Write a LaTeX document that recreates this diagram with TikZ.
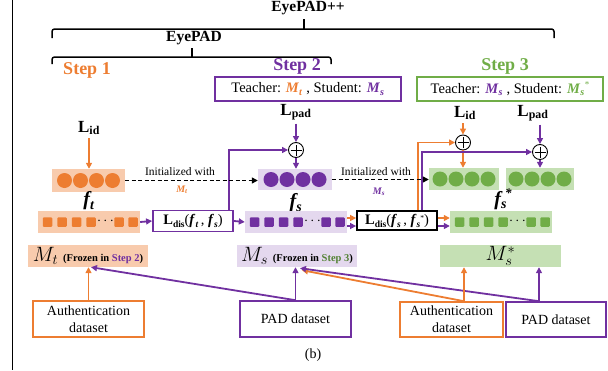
\documentclass[tikz,border=0pt]{standalone}
\usepackage{fontspec}
\setmainfont{Liberation Serif}
\usetikzlibrary{arrows.meta}
\definecolor{org}{HTML}{ED7D31}
\definecolor{orgl}{HTML}{F8CBAD}
\definecolor{pur}{HTML}{7030A0}
\definecolor{purl}{HTML}{E4D8EE}
\definecolor{grn}{HTML}{70AD47}
\definecolor{grnd}{HTML}{548235}
\definecolor{grnl}{HTML}{C5E0B4}
\newcommand\fsz[1]{\fontsize{#1}{#1}\selectfont}
\newcommand\bim[2]{\textbf{\textit{#1}}\textsubscript{\textbf{\textit{#2}}}}
\newcommand\lsub[1]{\raisebox{-3pt}{\fsz{9.5}#1}}
\begin{document}
\begin{tikzpicture}[x=1pt,y=-1pt,
  ln/.style={line width=1.8pt},
  arr/.style={line width=1.8pt,-{Triangle[length=6pt,width=6pt]}},
  dsh/.style={line width=1.3pt,dash pattern=on 4pt off 2.5pt,-{Triangle[length=6pt,width=6pt]}},
  featbox/.style={rectangle,inner sep=0pt,minimum height=22pt},
  dotc/.style={circle,inner sep=0pt,minimum size=15pt},
  sqr/.style={rectangle,inner sep=0pt,minimum size=9.5pt,rounded corners=1pt},
  plusn/.style={circle,draw=black,line width=0.9pt,minimum size=15pt,inner sep=0pt,fill=white},
  stepbox/.style={draw,line width=1.8pt,inner xsep=3pt,minimum height=24pt,font=\fsz{14.5}},
  lossbox/.style={draw,line width=1.8pt,inner sep=0pt,minimum width=80pt,minimum height=21pt,font=\fsz{14.5}},
  dsbox/.style={draw,fill=white,line width=1.6pt,align=center,inner sep=0pt,minimum height=36pt,font=\fontsize{14}{17}\selectfont},
  mbox/.style={inner sep=1pt,minimum width=120pt,minimum height=22pt},
  hd/.style={font=\fsz{15.5}\bfseries},
  stp/.style={font=\fsz{18}\bfseries},
  lossl/.style={font=\fsz{17}},
  initl/.style={font=\fsz{11.5}}
]
\useasboundingbox (0,0) rectangle (608,370);
\draw[line width=0.8pt] (12,0) -- (12,370);

% headings and braces
\node[hd] (epp) at (308,8) {EyePAD++};
\draw[line width=1.5pt,rounded corners=2.5pt] (52,38) |- (554,29) -- (554,38);
\draw[line width=1.5pt] (304,29) -- (304,19);
\node[hd] (ep) at (194,38) {EyePAD};
\draw[line width=1.5pt,rounded corners=2.5pt] (52,64) |- (331,57) -- (331,64);
\draw[line width=1.5pt] (192,57) -- (192,48);

\node[stp,text=org] (s1) at (87,70) {Step 1};
\node[stp,text=pur] (s2) at (297,66) {Step 2};
\node[stp,text=grn] (s3) at (505,66) {Step 3};

\node[stepbox,draw=pur,minimum width=186pt] (tb2) at (308,89)
  {Teacher: \textcolor{org}{\bim{M}{t}} , Student: \textcolor{pur}{\bim{M}{s}}};
\node[stepbox,draw=grn,minimum width=186pt] (tb3) at (510,89)
  {Teacher: \textcolor{pur}{\bim{M}{s}} , Student: \textcolor{grn}{\bim{M}{s}\raisebox{6pt}{\fsz{9}*}}};

% loss labels
\node[lossl] (lid1) at (89,128) {\textbf{L}\textsubscript{\textbf{id}}};
\node[lossl] (lpad2) at (296,112) {\textbf{L}\textsubscript{\textbf{pad}}};
\node[lossl] (lid3) at (465,113) {\textbf{L}\textsubscript{\textbf{id}}};
\node[lossl] (lpad3) at (533,113) {\textbf{L}\textsubscript{\textbf{pad}}};

% feature boxes (circles)
\node[featbox,fill=orgl,minimum width=73pt,minimum height=23pt] (ft) at (88.5,180.5) {};
\foreach \i in {0,...,3} \node[dotc,fill=org] at (64.5+16*\i,180.5) {};
\node[featbox,fill=purl,minimum width=74pt,minimum height=21pt] (fs) at (295,179.5) {};
\foreach \i in {0,...,3} \node[dotc,fill=pur] at (271+16*\i,179.5) {};
\node[featbox,fill=grnl,minimum width=70pt,minimum height=22pt] (g1) at (464,179) {};
\foreach \i in {0,...,3} \node[dotc,fill=grn] at (440+16*\i,179) {};
\node[featbox,fill=grnl,minimum width=68pt,minimum height=22pt] (g2) at (540,179) {};
\foreach \i in {0,...,3} \node[dotc,fill=grn] at (516+16*\i,179) {};

\node[font=\fsz{20}\bfseries\itshape] (ftl) at (89,201) {f\textsubscript{t}};
\node[font=\fsz{20}\bfseries\itshape] (fsl) at (296,203) {f\textsubscript{s}};
\node[font=\fsz{20}\bfseries\itshape] (fsxl) at (503,199) {f\textsubscript{s}\hspace{-2pt}\raisebox{8pt}{\fsz{13}*}};

% square rows
\node[featbox,fill=orgl,minimum width=102pt] (rowo) at (89,222) {};
\node[featbox,fill=purl,minimum width=102pt] (rowp) at (296,222) {};
\node[featbox,fill=grnl,minimum width=102pt] (rowg) at (501,222) {};
\foreach \L/\c in {38/org,245/pur,450/grn}{
  \foreach \dx in {9.5,24,38.5,53,81,95} \node[sqr,fill=\c] at (\L+\dx,222) {};
  \node[font=\fsz{14}\bfseries] at (\L+67.5,221) {$\cdots$};
}

% loss boxes
\node[lossbox,draw=pur] (ld1) at (193,221) {\textbf{L}\lsub{\textbf{dis}}(\textbf{\textit{f}}\lsub{\textbf{\textit{t}}}\,, \textbf{\textit{f}}\lsub{\textbf{\textit{s}}})};
\node[lossbox,draw=black,minimum height=19pt] (ld2) at (397,220.5) {\textbf{L}\lsub{\textbf{dis}}(\textbf{\textit{f}}\lsub{\textbf{\textit{s}}}\,, \textbf{\textit{f}}\lsub{\textbf{\textit{s}}}\raisebox{4pt}{\fsz{7.5}*})};

% plus nodes
\node[plusn] (p2) at (296,150) {};
\node[plusn] (p3a) at (463,142.5) {};
\node[plusn] (p3b) at (540,152) {};
\foreach \p in {p2,p3a,p3b}{
  \draw[line width=0.9pt] ([xshift=-5.5pt]\p.center) -- ([xshift=5.5pt]\p.center);
  \draw[line width=0.9pt] ([yshift=-5.5pt]\p.center) -- ([yshift=5.5pt]\p.center);
}

% step 1/2 connectors
\draw[arr,org] (lid1.south) -- (lid1.south |- ft.north);
\draw[arr,pur] (lpad2.south) -- (p2.north);
\draw[arr,pur] (p2.south) -- (p2.south |- fs.north);
\draw[arr,pur] ([xshift=-5pt]ld1.north east) |- (p2.west);
\draw[arr,pur] (rowo.east) -- (ld1.west);
\draw[arr,pur] (ld1.east) -- (rowp.west);

% step 3 connectors
\draw[arr,org] (lid3.south -| p3a) -- (p3a.north);
\draw[arr,org] (p3a.south) -- (p3a.south |- g1.north);
\draw[arr,pur] (lpad3.south -| p3b) -- (p3b.north);
\draw[arr,pur] (p3b.south) -- (p3b.south |- g2.north);
\draw[arr,org] ([xshift=-20pt]ld2.north east) |- (p3a.west);
\draw[arr,pur] ([xshift=-16pt]ld2.north east) |- (p3b.west);
\draw[arr,org] ([yshift=4pt]rowp.east) -- ([yshift=4pt]rowp.east -| ld2.west);
\draw[arr,pur] ([yshift=-4pt]rowp.east) -- ([yshift=-4pt]rowp.east -| ld2.west);
\draw[arr,org] ([yshift=4pt]rowp.east -| ld2.east) -- ([yshift=4pt]rowp.east -| rowg.west);
\draw[arr,pur] ([yshift=-4pt]rowp.east -| ld2.east) -- ([yshift=-4pt]rowp.east -| rowg.west);

% dashed init arrows
\draw[dsh] (ft.east) -- (ft.east -| fs.west);
\node[initl] (in1) at (180,172) {Initialized with};
\node[font=\fsz{10}\bfseries\itshape,text=org] (in1m) at (182,190) {M\textsubscript{t}};
\draw[dsh] (fs.east) -- (fs.east -| g1.west);
\node[initl] (in2) at (376,172) {Initialized with};
\node[font=\fsz{10}\bfseries\itshape,text=pur] (in2m) at (379,192) {M\textsubscript{s}};

% model labels
\node[mbox,fill=orgl] (mt) at (88,256) {\fsz{20}$M_t$\ \fsz{10.5}\textbf{(Frozen in \textcolor{pur}{Step 2})}};
\node[mbox,fill=purl] (ms) at (297,256) {\fsz{20}$M_s$\ \fsz{10.5}\textbf{(Frozen in \textcolor{grnd}{Step 3})}};
\node[mbox,fill=grnl,minimum width=121pt] (msx) at (500.5,256) {\fsz{20}$M_s^*$};

% datasets
\node[dsbox,draw=org,minimum width=111pt] (authL) at (88.5,319) {Authentication\\dataset};
\node[dsbox,draw=pur,minimum width=111pt] (padM) at (295.5,319) {PAD dataset};
\node[dsbox,draw=org,minimum width=103pt,minimum height=35pt] (authR) at (451.5,319.5) {Authentication\\dataset};
\node[dsbox,draw=pur,minimum width=100pt,minimum height=35pt] (padR) at (556,319.5) {PAD dataset};

\draw[arr,org] (authL.north) -- (authL.north |- mt.south);
\draw[arr,pur] (padM.north) -- ([xshift=3pt]mt.south);
\draw[arr,pur] (padM.north) -- (padM.north |- ms.south);
\draw[arr,org] ([xshift=12.5pt]authR.north) -- ([xshift=5pt,yshift=-3pt]ms.south);
\draw[arr,pur] ([xshift=-17pt]padR.north) -- ([xshift=3pt,yshift=-1pt]ms.south);
\draw[arr,org] ([xshift=12.5pt]authR.north) -- ([xshift=12.5pt]authR.north |- msx.south);
\draw[arr,pur] ([xshift=-17pt]padR.north) -- ([xshift=-17pt]padR.north |- msx.south);

\node[font=\fsz{14}] (cap) at (313,355) {(b)};
\end{tikzpicture}
\end{document}
